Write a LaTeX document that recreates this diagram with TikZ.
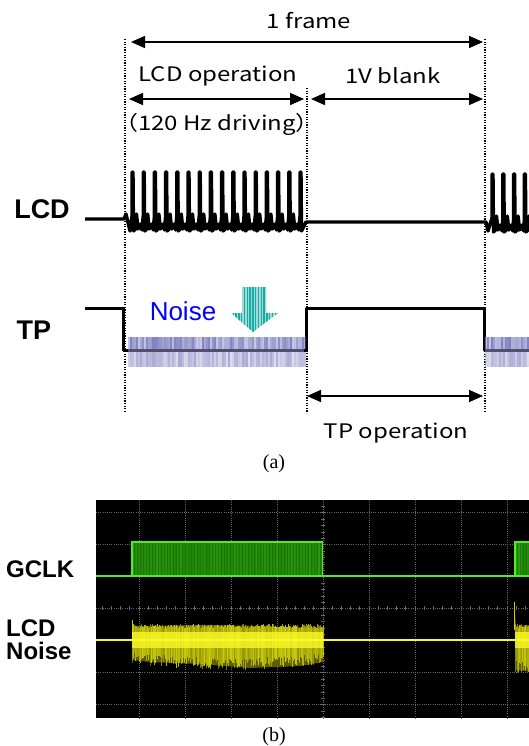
\documentclass[tikz,border=0pt]{standalone}
\usepackage{fontspec}
\setmainfont{Liberation Serif}
\newfontfamily\jfont[FakeStretch=1.2]{Noto Sans CJK JP}
\newfontfamily\afont{Liberation Sans}
\usetikzlibrary{arrows.meta}
\definecolor{noiseblue}{RGB}{0,0,255}
\definecolor{bandc}{RGB}{85,85,175}
\definecolor{bandline}{RGB}{80,80,108}
\definecolor{tealA}{RGB}{25,170,165}
\definecolor{tealB}{RGB}{160,220,215}
\definecolor{gdark}{RGB}{25,120,5}
\definecolor{gmid}{RGB}{55,170,20}
\definecolor{gbright}{RGB}{80,235,40}
\definecolor{ybright}{RGB}{250,250,40}
\definecolor{ymid}{RGB}{205,205,15}
\definecolor{ydark}{RGB}{95,95,0}
\definecolor{gridc}{RGB}{105,105,105}
\tikzset{
  dimline/.style={line width=1.5pt, {Triangle[length=14pt,width=12pt]}-{Triangle[length=14pt,width=12pt]}},
  guide/.style={line width=1.2pt, dash pattern=on 1.2pt off 1.4pt},
  sig/.style={line width=3.4pt, line join=round},
  lbl/.style={font=\jfont\fontsize{20}{23}\selectfont, inner sep=0pt},
  biglbl/.style={font=\afont\bfseries\fontsize{27}{30}\selectfont, inner sep=0pt},
  scopelbl/.style={font=\afont\bfseries\fontsize{24}{23}\selectfont, inner sep=0pt, align=left},
  caplbl/.style={font=\fontsize{20}{22}\selectfont, inner sep=0pt},
  gridline/.style={gridc, line width=0.7pt, dash pattern=on 1pt off 1.2pt},
}
\begin{document}
\begin{tikzpicture}[x=1pt,y=-1pt]
\clip (0,0) rectangle (529,746);
\fill[white] (0,0) rectangle (529,746);

% ---------- (a) timing diagram ----------
% guide lines
\coordinate (g1t) at (125,39);  \coordinate (g1b) at (125,413);
\coordinate (g2t) at (307,88);  \coordinate (g2b) at (307,413);
\coordinate (g3t) at (485,39);  \coordinate (g3b) at (485,413);
\draw[guide] (g1t) -- (g1b);
\draw[guide] (g2t) -- (g2b);
\draw[guide] (g3t) -- (g3b);

% dimension arrows
\coordinate (fa) at (131,42);  \coordinate (fb) at (483,42);
\coordinate (la) at (129,99);  \coordinate (lb) at (304,99);
\coordinate (va) at (311,99);  \coordinate (vb) at (483,99);
\coordinate (ta) at (307,396); \coordinate (tb) at (483,396);
\draw[dimline] (fa) -- (fb);
\draw[dimline] (la) -- (lb);
\draw[dimline] (va) -- (vb);
\draw[dimline] (ta) -- (tb);

\node[lbl] (frame) at (309,21) {1 frame};
\node[lbl] (lcdop) at (218,76) {LCD operation};
\node[lbl] (blank) at (393,76) {1V blank};
\node[lbl] (drv) at (217,124) {（120 Hz driving）};
\node[lbl] (tpop) at (396,433) {TP operation};

% signal labels
\node[biglbl] (lcdl) at (42,209) {LCD};
\node[biglbl] (tpl) at (34,330) {TP};

% LCD waveform
\draw[sig] (85,219) -- (124,219) -- (126,214) -- (130,231)
  foreach \i in {0,...,14}{
    -- ({132+11.2*\i},216) -- ({132+11.2*\i},172) -- ({133+11.2*\i},172)
    -- ({133.5+11.2*\i},231) -- ({135.5+11.2*\i},229) -- ({136.5+11.2*\i},214)
    -- ({138+11.2*\i},229) -- ({140.5+11.2*\i},224) -- ({142+11.2*\i},230) }
  -- (300,216) -- (300,172) -- (301,172) -- (301.5,231) -- (304,226) -- (306,222)
  -- (486,222) -- (488,231)
  foreach \i in {0,...,4}{
    -- ({492+10.8*\i},218) -- ({492+10.8*\i},174) -- ({493+10.8*\i},174)
    -- ({493.5+10.8*\i},232) -- ({495.5+10.8*\i},230) -- ({496.5+10.8*\i},216)
    -- ({498+10.8*\i},230) -- ({500.5+10.8*\i},225) -- ({502+10.8*\i},231) };

% TP waveform
\draw[sig, line width=3pt] (85,308) -- (123,308) -- (123,350) -- (306,350) -- (306,308)
  -- (484,308) -- (484,350) -- (535,350);

% noise bands
\pgfmathsetseed{3}
\foreach \xa/\n in {128/88, 485/23}{
  \pgfmathsetmacro{\xb}{\xa+2*\n}
  \fill[bandc!30, opacity=0.5] (\xa,337) rectangle (\xb,348.5);
  \fill[bandc!18, opacity=0.5] (\xa,351.5) rectangle (\xb,367);
  \foreach \k in {0,...,\n}{
    \pgfmathsetmacro{\x}{\xa+1+2*\k}
    \pgfmathsetmacro{\oa}{0.2+0.5*rnd}
    \pgfmathsetmacro{\ob}{0.1+0.35*rnd}
    \draw[bandc, opacity=\oa, line width=1.1pt] (\x,337) -- (\x,348.5);
    \draw[bandc, opacity=\ob, line width=1.1pt] (\x,351.5) -- (\x,367);
  }
  \draw[bandline, line width=3pt] (\xa,350) -- (\xb,350);
}

% Noise label and arrow
\node[font=\afont\fontsize{26}{28}\selectfont, text=noiseblue, inner sep=0pt] (noise) at (183,311) {Noise};
\begin{scope}
  \clip (242,287) -- (266,287) -- (266,313) -- (278,313) -- (253,332)
        -- (231,313) -- (242,313) -- cycle;
  \fill[tealB] (229,285) rectangle (280,334);
  \foreach \x in {230.5,233.3,...,280}{
    \draw[tealA, line width=1.5pt] (\x,285) -- (\x,334);
  }
\end{scope}

\node[caplbl] (capa) at (274,464) {(a)};

% ---------- (b) oscilloscope ----------
\fill[black] (96,500) rectangle (529,718);
\foreach \x in {139,185,231,277,369,415,461,507}{
  \draw[gridline] (\x,500) -- (\x,718);
}
\foreach \y in {512,544,576,640,672,704}{
  \draw[gridline] (96,\y) -- (529,\y);
}
\draw[gridline] (323,500) -- (323,718);
\draw[gridline] (96,608) -- (529,608);
\foreach \y in {506.4,512.8,...,718}{
  \draw[gridc, line width=0.7pt] (321,\y) -- (325,\y);
}
\foreach \x in {102.2,111.4,...,529}{
  \draw[gridc, line width=0.7pt] (\x,606) -- (\x,610);
}

% GCLK
\pgfmathsetseed{11}
\foreach \xa/\n in {132/127, 515/11}{
  \pgfmathsetmacro{\xb}{\xa+1.5*\n}
  \fill[gdark] (\xa,542) rectangle (\xb,576);
  \foreach \k in {0,...,\n}{
    \pgfmathsetmacro{\x}{\xa+1.5*\k}
    \pgfmathsetmacro{\oo}{0.2+0.5*rnd}
    \draw[gmid, opacity=\oo, line width=0.7pt] (\x,543) -- (\x,575);
  }
  \draw[gbright, line width=1.5pt] (\xa,576) -- (\xa,542) -- (\xb,542) -- (\xb,576);
}
\draw[gbright, line width=2.5pt] (96,576) -- (529,576);

% LCD noise
\pgfmathsetseed{5}
\fill[ydark] (132,620) -- (134,626) -- (200,625) -- (260,626) -- (323,628)
  -- (323,662) -- (300,666) -- (250,668) -- (200,664) -- (150,662) -- (132,660) -- cycle;
\foreach \x in {132,133,...,323}{
  \pgfmathsetmacro{\tt}{624+4*rnd}
  \pgfmathsetmacro{\bb}{652+6*sin((\x-132)/191*180)+12*rnd}
  \pgfmathsetmacro{\oo}{0.5+0.5*rnd}
  \draw[ymid, opacity=\oo, line width=0.6pt] (\x,\tt) -- (\x,\bb);
}
\draw[ymid, line width=0.8pt] (132.5,620) -- (132.5,640);
\fill[ydark] (514,602) -- (516,626) -- (531,625) -- (531,672) -- (516,670) -- cycle;
\foreach \x in {515,516,...,530}{
  \pgfmathsetmacro{\tt}{624+4*rnd}
  \pgfmathsetmacro{\bb}{658+16*rnd}
  \pgfmathsetmacro{\oo}{0.5+0.5*rnd}
  \draw[ymid, opacity=\oo, line width=0.6pt] (\x,\tt) -- (\x,\bb);
}
\draw[ymid, line width=0.7pt] (514.5,602) -- (514.5,630);
\fill[ybright, opacity=0.8] (132,632) rectangle (323,648);
\fill[ybright, opacity=0.8] (515,632) rectangle (531,648);
\draw[ybright, line width=2.5pt] (96,640) -- (529,640);

% scope labels
\node[scopelbl, anchor=west] (gclk) at (6,569) {GCLK};
\node[scopelbl, anchor=west] (lcdn) at (6,640) {LCD\\Noise};

\node[caplbl] (capb) at (274,737) {(b)};
\end{tikzpicture}
\end{document}
